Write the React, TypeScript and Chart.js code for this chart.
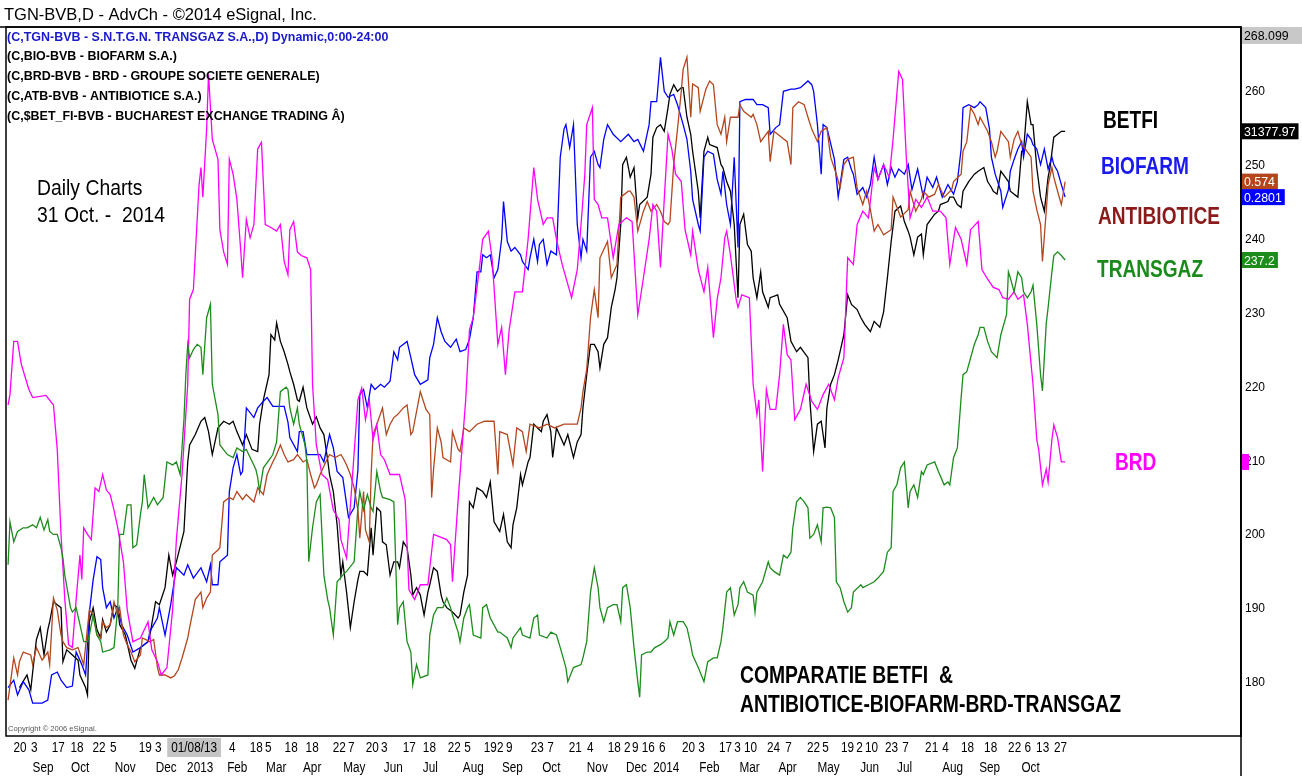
import React, { useEffect, useRef } from "react";
import { Chart, registerables } from "chart.js";
Chart.register(...registerables);

const W = 1302;
const H = 776;
const SANS = '"Liberation Sans", Arial, sans-serif';

// x = trading-day index (0 = mid Aug 2012), y = price on TRANSGAZ scale
const yTicks = [180, 190, 200, 210, 220, 230, 240, 250, 260];

const dayTickPos = [6.3, 13.8, 26.5, 36.5, 48.1, 55.6, 72.5, 79.4, 98.4, 118.5, 131.2, 137.6, 149.7, 160.8, 175.1, 181.5, 192.6, 198.9, 212.2, 222.8, 236, 242.9, 255, 260.3, 265.1, 279.9, 286.8, 300, 307.9, 320.6, 327.5, 331.7, 338.6, 346, 359.8, 366.7, 379.4, 385.7, 392.6, 404.8, 412.7, 425.9, 432.3, 443.9, 450.3, 456.6, 467.2, 474.6, 488.4, 495.8, 507.4, 519.6, 532.3, 539.2, 547.1, 556.6];
const dayTickLabels = ["20", "3", "17", "18", "22", "5", "19", "3", "01/08/13", "4", "18", "5", "18", "18", "22", "7", "20", "3", "17", "18", "22", "5", "19", "2", "9", "23", "7", "21", "4", "18", "2", "9", "16", "6", "20", "3", "17", "3", "10", "24", "7", "22", "5", "19", "2", "10", "23", "7", "21", "4", "18", "18", "22", "6", "13", "27"];
const highlightedTick = "01/08/13";

const monthPos = [18.5, 38.1, 61.9, 83.6, 101.6, 121.2, 141.8, 160.8, 183.1, 203.7, 223.3, 246, 266.7, 287.3, 311.6, 332.3, 348.1, 370.9, 392.1, 412.2, 433.9, 455.6, 474.1, 499.5, 519.1, 540.7];
const monthLabels = ["Sep", "Oct", "Nov", "Dec", "2013", "Feb", "Mar", "Apr", "May", "Jun", "Jul", "Aug", "Sep", "Oct", "Nov", "Dec", "2014", "Feb", "Mar", "Apr", "May", "Jun", "Jul", "Aug", "Sep", "Oct"];

const brd: [number, number][] = [[0,217.6],[1,219],[3,226.2],[5,226.2],[7,223.1],[11,219.7],[13,218.6],[20,218.9],[24,217.6],[26,211.6],[28,200.1],[30,191.3],[32,185.2],[34,184.8],[36,191.3],[38,197.3],[39,194],[40,201],[42,200.1],[44,199.4],[46,206.4],[48,205.9],[50,208.2],[52,206.1],[54,205.5],[56,203.4],[58,201],[61,196.4],[63,189.9],[66,185.6],[70,186.1],[74,188.3],[76,184.5],[79,182.9],[81,181.1],[84,182.1],[87,189.9],[89,199.4],[92,208.2],[95,220.4],[96,231.9],[98,233.2],[101,247.4],[102,249.7],[103,245.7],[105,254.9],[106,262.3],[108,253.5],[111,250.8],[112,241.3],[114,238.3],[116,236.6],[117,250.8],[119,248.8],[121,245.4],[123,238.6],[124,234.8],[126,242.7],[128,240.2],[130,242],[132,252.2],[134,253.1],[136,242],[139,241.6],[142,241.1],[144,242],[146,237],[148,235.2],[149,241.3],[151,242.4],[153,238.3],[155,237.8],[158,237.5],[160,235.9],[161,220.4],[163,212.2],[166,208.2],[169,207.5],[172,203.4],[175,202.1],[176,199.4],[179,196.9],[182,207.5],[185,218.3],[187,219.9],[189,215.6],[191,218.3],[193,212.9],[195,214.9],[197,210.9],[199,210.2],[202,208.2],[207,208.2],[210,204.8],[212,192.6],[215,191.3],[218,193.3],[222,193.3],[225,200.1],[228,199.8],[232,199.4],[234,198.7],[235,193.7],[238,204.8],[240,211.6],[242,218.3],[244,227.8],[246,229.4],[249,235.6],[251,240],[254,241.1],[256,237.3],[259,225.8],[261,228.1],[263,221.7],[265,227.8],[268,232.9],[272,232.9],[275,240],[278,249.7],[280,245.4],[283,242],[285,242.9],[288,242.9],[290,240],[293,236.6],[296,233.9],[298,232.1],[301,235.9],[303,242],[305,248.8],[306,255.5],[309,257.8],[310,245.4],[312,244.7],[314,242.9],[317,242.9],[320,237.5],[323,242],[327,242.9],[330,242.4],[333,229.8],[336,234.8],[339,240],[341,244.7],[343,243.8],[345,236.2],[347,245.4],[349,254.2],[351,252.2],[353,248.8],[356,247.8],[358,241.3],[361,237.9],[362,241.1],[365,235.9],[368,232.9],[370,236.2],[373,226.7],[375,231.9],[377,234.8],[379,240.2],[380,241.1],[382,237.9],[385,231.9],[386,230.8],[388,232.5],[392,232.1],[394,220.4],[396,216.3],[397,218.3],[399,208.6],[401,219.7],[403,217],[406,217],[408,221.7],[410,228.5],[412,224.4],[414,223.7],[416,215.6],[419,217],[422,220.4],[425,218.1],[428,217],[431,219],[434,220.4],[437,218.3],[439,221.3],[442,224],[444,237.5],[447,236.6],[449,242],[452,243.8],[455,242.9],[458,249.7],[460,248.1],[463,250.1],[466,248.4],[468,253.5],[471,262.7],[473,261.6],[475,251.1],[477,242.9],[480,245.4],[483,244.3],[486,245.7],[489,243.8],[493,243.8],[496,242.9],[498,236.6],[501,241.6],[504,240],[507,236.6],[509,241.3],[513,242.4],[515,235.9],[518,234.6],[521,233.5],[524,233.2],[526,232.1],[529,231.9],[532,232.9],[534,231.9],[537,232.5],[539,228.5],[540,225.8],[542,220.4],[544,212.9],[545,211.6],[547,206.8],[549,208.9],[550,207.2],[552,212.9],[553,214.9],[555,213.2],[557,209.9],[559,209.9]];

const biofarm: [number, number][] = [[0,179.4],[3,180.4],[5,178.4],[8,180.2],[11,179.1],[13,177.3],[18,177.3],[21,177.7],[23,181.1],[26,181.5],[28,180.4],[31,179.4],[34,179.6],[36,184.2],[39,182.5],[41,181.1],[43,189.6],[45,194],[47,197.1],[49,196.7],[50,192.9],[52,190.2],[54,191],[56,188.8],[58,190.2],[60,187.9],[63,186.5],[66,184.2],[70,184.8],[74,185.6],[75,187],[79,188.8],[80,190.2],[83,186.5],[86,190.6],[87,192.3],[89,195.6],[93,194.6],[95,196],[98,194.2],[102,195.6],[105,193.7],[107,196],[108,193.3],[111,193.3],[112,196.4],[116,197.3],[117,205.9],[119,209.1],[121,210.9],[123,208.2],[124,208.6],[126,217.2],[130,215.9],[132,217.2],[135,218.1],[137,218.6],[140,217.4],[146,217.4],[148,215.3],[149,213.2],[153,211.3],[154,214],[156,214],[158,210.9],[165,210.9],[167,209.9],[170,213.6],[172,211.8],[174,208.6],[177,207.8],[180,202.4],[183,203.7],[185,208.8],[186,219],[188,219.7],[190,217.2],[192,220.4],[194,219.7],[197,220.4],[199,220],[202,220.8],[204,224.8],[206,223.7],[207,225.4],[211,226.2],[213,224],[215,221.7],[218,220.4],[222,221],[223,224],[225,225.8],[227,229.4],[229,227.5],[231,226.2],[234,225.4],[237,226.5],[239,224.8],[242,225.1],[244,226.5],[246,229.4],[248,235.6],[250,235.6],[251,237.9],[253,237.5],[255,237.9],[257,234.8],[259,235.9],[261,240],[262,245.1],[264,239.7],[266,238.4],[268,238.9],[271,237.9],[272,237],[275,235.9],[276,237.5],[278,240],[280,237],[281,239.3],[283,240],[285,236.6],[287,238.4],[290,237.9],[292,251.1],[294,254.9],[295,255.5],[297,252.4],[299,255.5],[301,242],[303,237.5],[304,240],[306,238.4],[308,251.1],[310,251.9],[312,250.1],[313,249.7],[315,253.5],[317,255.5],[320,254.2],[324,253.2],[328,254.2],[331,253.2],[333,253.5],[336,251.9],[339,255.5],[340,258.6],[343,258.6],[345,264.6],[347,260],[349,259.2],[352,259.6],[354,258.2],[357,255.5],[359,253.5],[361,249.2],[362,245.4],[365,242],[366,241.1],[368,251.1],[370,251.9],[373,251.5],[375,248.1],[377,246.1],[378,249.2],[380,244.7],[382,242],[384,251.1],[386,238.9],[387,258.6],[390,258.9],[394,258.9],[396,258.2],[399,258.2],[402,257.8],[403,254.2],[406,255.1],[408,255.5],[410,260],[414,260.3],[416,260.3],[419,260.5],[423,261.4],[425,260.9],[426,260],[428,255.5],[430,248.8],[431,255.5],[433,255.1],[437,250.8],[439,245.7],[442,250.8],[444,251.1],[446,249.4],[447,248.8],[449,246.1],[452,247],[454,245.7],[456,247.4],[458,251.1],[460,248.1],[463,250.1],[465,247.4],[467,249.7],[469,248.4],[471,249.5],[474,248.8],[476,250.1],[478,246.7],[481,249.5],[484,245.7],[486,248.4],[489,247],[491,248.4],[494,245.7],[497,247.4],[500,246.1],[502,247.8],[504,252.2],[505,257.8],[508,258.2],[511,257.8],[513,258.2],[514,258.6],[517,257.8],[519,254.9],[520,251.1],[522,248.8],[525,246.5],[526,244.3],[529,246.7],[530,249.2],[532,250.8],[534,252.2],[536,253.2],[537,251.1],[539,254.2],[541,253.5],[542,252.8],[544,252.2],[546,250.1],[548,252.2],[550,249.5],[552,251.1],[553,250.1],[555,249.2],[557,247.4],[559,245.7]];

const antibiotice: [number, number][] = [[0,177.7],[3,183.4],[5,181.1],[6,182.9],[8,184.2],[12,183.8],[13,182.5],[15,184.8],[18,183.1],[21,184.2],[22,182.5],[24,191.5],[26,189.9],[28,186.5],[29,185.6],[31,184.8],[34,184.5],[37,184.8],[40,182.5],[42,187.5],[43,189.9],[45,189.2],[47,186.5],[49,186.1],[50,188.3],[52,187.5],[54,187.9],[56,191],[58,189.2],[59,190.2],[61,186.5],[63,185.2],[65,184.2],[67,182.9],[70,183.8],[71,186.1],[75,185.6],[77,185.9],[79,182.1],[80,181.1],[83,181.1],[86,180.7],[88,181],[90,181.8],[92,183.4],[95,186.1],[96,187.5],[99,191.3],[102,192.3],[103,190.2],[105,191.5],[107,192.3],[108,197.3],[111,198],[112,198.3],[114,204.5],[117,205.1],[119,204.8],[121,205.9],[124,204.8],[126,205.5],[130,204.5],[132,206.4],[133,206.1],[135,205.5],[137,208.2],[140,209.9],[142,210.9],[144,212.2],[146,210.9],[148,209.9],[151,210.2],[153,210.9],[156,209.9],[158,210.2],[160,208.2],[162,206.4],[163,206.8],[165,208.2],[168,209.9],[170,210.9],[173,210.5],[176,210.9],[177,210.5],[179,209.5],[181,208.2],[183,206.4],[185,203.4],[186,199.6],[188,205.9],[189,200.7],[191,199.1],[192,208.2],[193,213.6],[195,215],[198,217.2],[200,213.6],[202,215],[204,215.9],[206,216.3],[209,217.2],[211,217.6],[213,213.6],[214,214],[218,219.4],[221,217],[223,216.3],[224,205.1],[225,208.9],[227,214.5],[229,212.6],[230,210.5],[234,209.9],[235,214],[238,211.6],[239,211.3],[241,214.5],[244,214],[248,215],[252,215.4],[257,215.4],[259,208.2],[260,214],[264,213.6],[267,209.5],[269,214.5],[272,214],[274,211.3],[276,215],[281,214.5],[285,215],[289,214.5],[294,215],[299,215],[301,215],[303,217.2],[304,219.4],[306,222.4],[308,229.4],[310,233.2],[312,229.4],[313,237.5],[317,239.7],[319,234.8],[322,236.6],[324,245.7],[328,246.5],[329,246.5],[331,245.7],[333,241.1],[336,243.8],[338,245.1],[340,243.8],[343,244.7],[345,243.8],[347,242.4],[349,242],[350,242.4],[352,250.1],[354,254.9],[356,260],[357,263],[359,264.6],[361,256.5],[362,261],[365,260.5],[366,257.3],[369,260.3],[371,261.4],[373,260.9],[375,255.5],[377,254.2],[379,256.5],[380,253.2],[382,256.5],[386,256.5],[387,258.2],[389,257.3],[393,256.5],[394,256.9],[396,255.5],[398,253.2],[402,254.6],[403,250.5],[405,254.6],[409,253.8],[412,253.2],[414,250.1],[415,257.8],[418,258.6],[421,258.2],[423,256.5],[425,254.9],[428,253.2],[430,254.6],[433,255.1],[435,251.1],[438,248.8],[440,247],[442,250.1],[444,250.8],[447,251.1],[449,246.9],[452,244.7],[454,246.5],[456,244],[458,241.1],[460,242],[463,240.6],[467,241.3],[468,245.7],[472,243],[476,244],[477,246.5],[480,243.8],[483,245.4],[484,246.5],[487,245.7],[490,246.1],[492,247.4],[495,245.7],[499,246.7],[500,247.8],[504,248.8],[505,251.9],[507,253.2],[509,257.8],[511,256.9],[513,255.5],[514,256.5],[518,254.6],[520,253.2],[522,251.1],[523,251.9],[525,254.6],[529,253.2],[530,251.1],[532,253.5],[534,254.6],[536,252.8],[538,252.2],[541,251.1],[542,246.5],[544,244],[546,242],[547,237],[549,243.8],[550,247.4],[552,249.7],[553,248.4],[555,246.5],[557,244.7],[559,247.8]];

const betfi: [number, number][] = [[6,179.4],[10,181.1],[12,179.1],[13,181.5],[15,185.9],[17,187.5],[19,183.8],[21,187.2],[22,188.3],[24,191],[26,190.6],[28,190.2],[29,182.9],[31,184.5],[34,183.8],[37,183.1],[38,181.1],[41,179.4],[42,178.4],[43,188.3],[45,190.2],[47,187.2],[49,186.1],[50,188.6],[52,186.9],[54,187.9],[56,190.6],[58,190.2],[59,187.9],[62,186.5],[65,183.1],[67,182],[70,184.8],[74,185.6],[75,186.5],[78,191],[80,190.6],[83,192.9],[85,197.3],[87,194.6],[89,196.4],[93,200.5],[95,209.9],[96,212.2],[99,213.6],[102,215.4],[104,215.9],[106,214],[108,210.9],[111,214.5],[114,215.4],[117,215],[119,215.4],[121,214],[124,212.2],[126,213.6],[129,211.6],[132,211.3],[133,215],[135,218.3],[138,221.7],[139,227.1],[141,226.4],[142,228.7],[144,226.2],[146,224.8],[148,223.1],[149,222.1],[151,220.4],[153,218.3],[154,218.1],[156,220],[158,217.2],[161,215],[163,216],[165,214.5],[167,213.6],[169,210.2],[170,208.2],[172,205.9],[174,201.4],[176,194.6],[177,196.4],[179,192.3],[181,187.5],[183,191],[185,194],[186,195.1],[188,195.1],[190,194.6],[192,201],[193,197.3],[195,203.7],[197,203.2],[198,199.1],[200,198.7],[202,194.6],[204,196.4],[206,196.4],[207,195.6],[209,199.1],[211,198.3],[213,194.6],[214,191.9],[216,192.9],[218,191.9],[220,189.2],[222,192.3],[223,193.3],[225,195.6],[227,195.1],[229,191.9],[230,191],[232,190.2],[235,189.6],[238,188.8],[239,189.2],[241,192.3],[243,194.6],[244,204.5],[246,203.7],[248,206.4],[251,205.9],[253,205.1],[255,207.2],[257,201.8],[260,200.5],[262,202.8],[264,199.1],[266,198.3],[267,201.4],[269,203.7],[271,208.2],[272,206.8],[275,209.9],[276,210.5],[278,215],[282,214],[283,215.4],[285,216.3],[287,214],[288,210.5],[290,214.5],[294,212.2],[296,213.6],[299,210.5],[301,212.6],[303,213.6],[304,217.2],[306,221.7],[308,225.8],[310,225.8],[312,224.8],[313,222.6],[315,225.8],[317,226.7],[319,230.8],[321,233.2],[322,234.8],[324,242],[325,250.1],[327,251.1],[329,248.4],[331,249.7],[333,242.9],[334,244.7],[338,245.7],[340,248.8],[341,253.8],[343,255.1],[345,255.5],[347,254.6],[349,257.8],[350,259.6],[352,260.9],[354,260],[356,260.5],[357,260.5],[359,256.5],[361,254.2],[362,251.9],[365,246.5],[366,242.9],[368,251.9],[370,253.8],[371,252.8],[375,252.4],[377,250.1],[378,249.7],[380,247.8],[382,246.5],[384,242],[386,232.1],[387,242],[389,243.4],[391,239.3],[393,238.4],[394,234.8],[396,232.1],[398,235.6],[399,232.9],[402,230.8],[403,232.1],[407,232.5],[408,231.2],[412,229.4],[414,226.2],[417,224.8],[419,225.4],[423,224],[424,218.3],[426,211.3],[428,215],[430,215.4],[432,211.8],[433,217.2],[435,220.4],[437,221.7],[439,223.7],[442,227.1],[444,232.5],[446,231.2],[449,230.5],[451,229.4],[453,228.5],[456,227.5],[458,228.9],[461,228.1],[463,230.2],[465,234.8],[467,239.7],[469,243.8],[472,244.5],[474,242.4],[476,241.1],[477,240.3],[479,237.9],[481,240.3],[483,240.7],[484,237.9],[486,242],[490,243.4],[492,243.8],[493,244.7],[497,245.1],[498,245.7],[500,245.7],[502,244.7],[504,244.3],[505,246.5],[508,247.8],[511,248.8],[513,249.2],[516,249.7],[518,247.8],[520,247],[521,246.5],[523,246.1],[525,249.2],[529,247.8],[530,246.5],[534,245.7],[536,251.9],[537,251.9],[539,258.6],[541,255.5],[542,255.5],[544,249.7],[546,245.7],[548,243.8],[550,248.4],[551,249.7],[553,253.8],[555,254.2],[557,254.6],[559,254.6]];

const transgaz: [number, number][] = [[0,196],[1,201.8],[3,199.1],[5,200.5],[8,201],[10,201],[13,201.4],[15,201],[17,202.4],[19,200.7],[21,202.1],[22,200.5],[24,200.1],[26,200.1],[28,198.3],[29,196.9],[30,194.6],[33,190.2],[34,189.6],[36,190.2],[38,187.9],[40,185.6],[42,185.6],[43,186.5],[45,189.2],[47,186.5],[49,185.6],[50,184.2],[54,184.5],[56,184.8],[58,190.2],[59,200.1],[61,200.1],[63,204.1],[65,204.1],[66,198.3],[68,198.7],[70,202.8],[71,204.5],[72,208.2],[74,203.7],[77,205.1],[79,204.1],[82,205.1],[84,209.9],[87,209.5],[89,209.9],[91,208.2],[93,215.6],[94,221.7],[95,225.8],[96,224],[98,225.1],[100,225.8],[102,225.4],[103,221.7],[105,229.4],[107,231.2],[108,220.4],[111,216.3],[112,212.2],[116,210.9],[119,210.5],[121,211.8],[124,211.3],[126,211.6],[128,210.5],[131,208.9],[132,207.8],[133,205.9],[135,209.1],[139,210.5],[140,210.9],[142,212.6],[144,219.4],[147,220],[148,219.7],[149,217.2],[151,215],[153,217.2],[154,215],[157,212.2],[158,209.9],[159,196.4],[161,201],[163,204.5],[165,205.5],[167,194.6],[169,191.3],[170,190.2],[172,186.5],[174,193.7],[177,194.6],[179,195.1],[183,196.4],[185,203.7],[186,205.9],[188,203.4],[190,205.5],[192,203.7],[193,203.2],[195,208.6],[197,205.9],[198,205.1],[202,204.8],[204,204.5],[206,187.9],[207,190.2],[209,191],[211,185.6],[213,184.2],[214,179.8],[216,182.5],[218,180.7],[222,181.1],[223,186.5],[225,189.2],[227,190.2],[230,190.2],[232,191.5],[234,190.2],[235,189.2],[238,186.9],[239,185.6],[241,188.8],[243,190.2],[244,190.6],[246,186.5],[250,186.1],[251,190.2],[253,190.6],[255,188.8],[259,186.9],[260,186.9],[264,186.1],[266,184.8],[267,186.1],[271,187.5],[272,186.5],[276,186.1],[278,188.8],[280,189.2],[281,186.5],[285,186.1],[287,186.9],[290,186.5],[292,184.8],[295,182.1],[296,180.2],[299,182.1],[303,182.5],[304,183.4],[306,185.6],[308,192.3],[310,195.6],[312,192.9],[313,190.2],[315,188.3],[317,190.2],[320,190.6],[322,190.6],[324,188.3],[325,192.9],[327,193.3],[329,190.2],[331,184.8],[333,180.2],[334,178.1],[335,183.8],[338,184.2],[340,184.2],[342,184.8],[345,185.2],[347,185.6],[349,186.1],[350,188.3],[352,186.5],[354,188.3],[357,188.3],[359,187.5],[361,185.2],[362,183.8],[365,182.1],[368,180.2],[370,182.9],[373,183.4],[375,183.4],[377,185.6],[378,187.5],[380,192.3],[382,192.9],[384,189.2],[386,190.6],[387,192.9],[389,193.7],[391,192.3],[394,191.9],[395,189.6],[396,192.3],[399,193.7],[402,196.4],[403,195.6],[405,195.1],[408,194.6],[410,197.3],[412,196.9],[414,197.7],[415,201],[417,204.5],[419,205.1],[421,204.5],[423,203.7],[424,199.6],[426,200.1],[428,201.4],[430,199.1],[431,203.7],[433,203.8],[435,203.7],[437,202.4],[438,193.7],[440,192.9],[442,191],[444,189.6],[446,190.2],[447,192.3],[451,193.3],[452,192.9],[455,193.3],[458,193.7],[460,194.2],[463,195.1],[465,197.7],[467,198.3],[468,205.9],[470,206.8],[472,209.1],[474,209.9],[476,203.7],[477,205.9],[479,206.8],[481,205.1],[483,208.6],[484,208.2],[486,209.5],[490,209.9],[492,208.6],[495,206.8],[497,207.2],[498,206.8],[500,210.5],[502,211.8],[504,218.6],[505,221.7],[507,222.1],[511,225.8],[513,227.1],[514,228.1],[516,228.1],[518,226.2],[520,224.8],[523,224],[525,227.1],[528,229.8],[529,235.6],[530,234.8],[532,232.9],[534,235.6],[536,234.8],[537,232.9],[539,232.1],[541,232.9],[542,233.8],[544,228.5],[546,221.7],[547,219.5],[549,228.6],[550,230.8],[552,235.6],[553,237.8],[555,238.3],[557,237.8],[559,237.2]];

const seriesNames = ["TRANSGAZ", "BRD", "ANTIBIOTICE", "BIOFARM", "BETFI"];
const seriesData = [transgaz, brd, antibiotice, biofarm, betfi];
const seriesColors = ["#1c8c1c", "#ff00ff", "#b4461e", "#0000ff", "#000000"];
const lastValueLabels = ["237.2", "", "0.574", "0.2801", "31377.97"];
const topValueLabel = "268.099";

const legendLines = [
  "(C,TGN-BVB - S.N.T.G.N. TRANSGAZ S.A.,D) Dynamic,0:00-24:00",
  "(C,BIO-BVB - BIOFARM S.A.)",
  "(C,BRD-BVB - BRD - GROUPE SOCIETE GENERALE)",
  "(C,ATB-BVB - ANTIBIOTICE S.A.)",
  "(C,$BET_FI-BVB - BUCHAREST EXCHANGE TRADING Â)",
];

function narrow(ctx: CanvasRenderingContext2D, text: string, x: number, y: number, sx: number, align: CanvasTextAlign = "left") {
  ctx.save();
  ctx.translate(x, y);
  ctx.scale(sx, 1);
  ctx.textAlign = align;
  ctx.fillText(text, 0, 0);
  ctx.restore();
}

const overlayPlugin = {
  id: "overlay",
  afterDraw(chart: any) {
    const ctx: CanvasRenderingContext2D = chart.ctx;
    const { left, right, top, bottom } = chart.chartArea;
    const xs = chart.scales.x;
    const ys = chart.scales.y;
    ctx.save();

    // frame
    ctx.strokeStyle = "#000";
    ctx.lineWidth = 1.5;
    ctx.strokeRect(left, top, right - left, bottom - top);
    ctx.beginPath();
    ctx.moveTo(right, top);
    ctx.lineTo(right, H);
    ctx.moveTo(0, top);
    ctx.lineTo(right, top);
    ctx.stroke();

    // header
    ctx.fillStyle = "#000";
    ctx.textBaseline = "alphabetic";
    ctx.font = `16.5px ${SANS}`;
    narrow(ctx, "TGN-BVB,D - AdvCh - ©2014 eSignal, Inc.", 4, 20, 1);

    // legend lines
    ctx.font = `bold 13px ${SANS}`;
    ctx.textBaseline = "middle";
    legendLines.forEach((t, i) => {
      ctx.fillStyle = i === 0 ? "#1a1acc" : "#000";
      narrow(ctx, t, left + 1, 37 + i * 19.8, 0.96);
    });

    // annotations
    ctx.fillStyle = "#000";
    ctx.font = `22px ${SANS}`;
    narrow(ctx, "Daily Charts", 37, 189, 0.88);
    narrow(ctx, "31 Oct. -  2014", 37, 216, 0.88);

    ctx.font = `bold 23px ${SANS}`;
    const side: [string, string, number, number][] = [
      ["BETFI", "#000", 1103, 122],
      ["BIOFARM", "#1a1aee", 1101, 168],
      ["ANTIBIOTICE", "#8b1a1a", 1098, 218],
      ["TRANSGAZ", "#1a8a1a", 1097, 271],
      ["BRD", "#ff00ff", 1115, 464],
    ];
    side.forEach(([t, c, x, y]) => {
      ctx.fillStyle = c;
      narrow(ctx, t, x, y, 0.83);
    });
    ctx.fillStyle = "#000";
    narrow(ctx, "COMPARATIE BETFI  &", 740, 677, 0.84);
    narrow(ctx, "ANTIBIOTICE-BIOFARM-BRD-TRANSGAZ", 740, 706, 0.84);

    ctx.font = `8px ${SANS}`;
    ctx.fillStyle = "#555";
    narrow(ctx, "Copyright © 2006 eSignal.", left + 2, bottom - 7, 0.95);

    // x labels (days, months)
    ctx.font = `14px ${SANS}`;
    dayTickPos.forEach((p, i) => {
      const x = xs.getPixelForValue(p);
      const lab = dayTickLabels[i];
      if (lab === highlightedTick) {
        const w = ctx.measureText(lab).width * 0.84 + 8;
        ctx.fillStyle = "#c4c4c4";
        ctx.fillRect(x - w / 2, bottom + 2, w, 19);
      }
      ctx.fillStyle = "#000";
      narrow(ctx, lab, x, bottom + 12, 0.84, "center");
    });
    monthPos.forEach((p, i) => {
      const x = xs.getPixelForValue(p);
      narrow(ctx, monthLabels[i], x, bottom + 32, 0.84, "center");
    });

    // right axis top value box
    ctx.fillStyle = "#c8c8c8";
    ctx.fillRect(right + 1, top, W - right - 1, 17);
    ctx.fillStyle = "#000";
    ctx.font = `13px ${SANS}`;
    narrow(ctx, topValueLabel, right + 3, top + 9, 0.95);

    // last-value boxes
    seriesData.forEach((d, i) => {
      const y = ys.getPixelForValue(d[d.length - 1][1]);
      const lab = lastValueLabels[i];
      ctx.font = `13px ${SANS}`;
      const w = lab ? ctx.measureText(lab).width * 0.95 + 5 : 7;
      ctx.fillStyle = seriesColors[i];
      ctx.fillRect(right + 1, y - 8, w, 16);
      if (lab) {
        ctx.fillStyle = "#fff";
        narrow(ctx, lab, right + 3, y + 1, 0.95);
      }
    });

    ctx.restore();
  },
};

export default function App() {
  const ref = useRef<HTMLCanvasElement>(null);
  useEffect(() => {
    if (!ref.current) return;
    const chart = new Chart(ref.current, {
      type: "line",
      data: {
        datasets: seriesData.map((d, i) => ({
          label: seriesNames[i],
          data: d.map(([x, y]) => ({ x, y })),
          borderColor: seriesColors[i],
          borderWidth: 1.3,
          pointRadius: 0,
          tension: 0,
          fill: false,
        })),
      },
      options: {
        animation: false,
        responsive: false,
        maintainAspectRatio: false,
        devicePixelRatio: 1,
        layout: { padding: { left: 6, top: 27, right: 0, bottom: 40 } },
        plugins: { legend: { display: false }, tooltip: { enabled: false }, title: { display: false } },
        scales: {
          x: {
            type: "linear",
            display: false,
            min: -1.1,
            max: 652,
          },
          y: {
            type: "linear",
            position: "right",
            min: 172.85,
            max: 268.7,
            grid: { display: false, drawTicks: false },
            border: { display: true, color: "#000", width: 1.5 },
            afterBuildTicks: (s: any) => {
              s.ticks = yTicks.map((v) => ({ value: v }));
            },
            afterFit: (s: any) => {
              s.width = 61;
            },
            ticks: {
              padding: 4,
              color: "#000",
              font: { family: SANS, size: 12 },
              callback: (v: any) => String(v),
            },
          },
        },
      },
      plugins: [overlayPlugin],
    });
    return () => chart.destroy();
  }, []);
  return (
    <div style={{ position: "absolute", left: 0, top: 0, width: W, height: H, background: "#fff" }}>
      <canvas ref={ref} width={W} height={H} style={{ display: "block" }} />
    </div>
  );
}
